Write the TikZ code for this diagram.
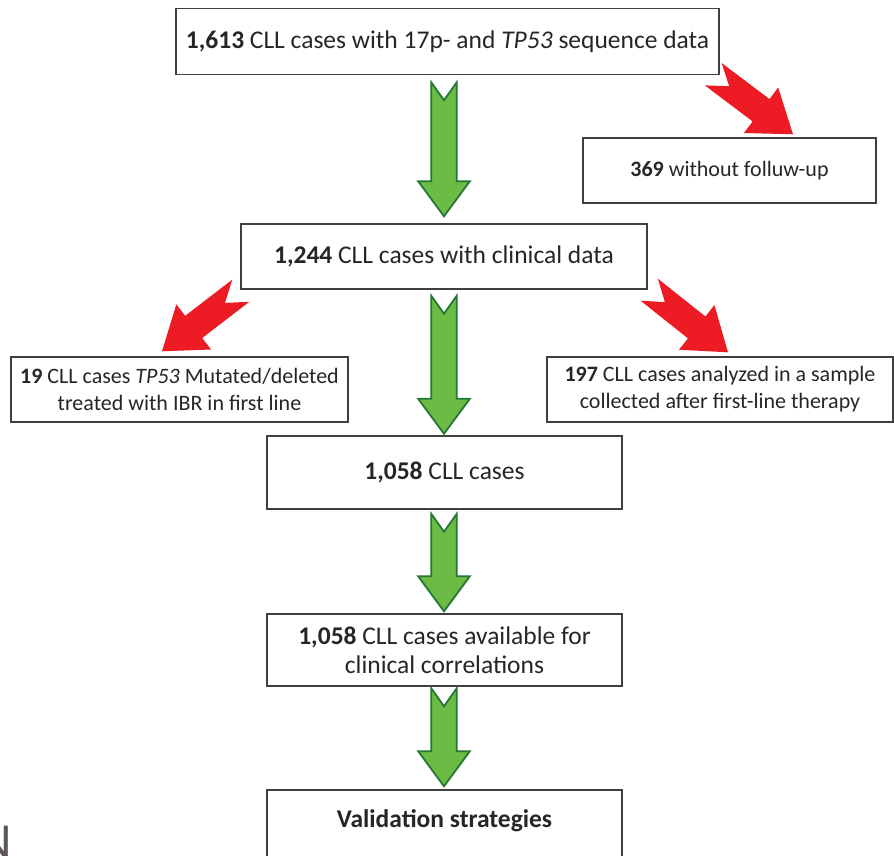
\documentclass[tikz,border=0pt]{standalone}
\usepackage{fontspec}
\setmainfont{Carlito}
\usetikzlibrary{calc}
\definecolor{boxline}{RGB}{64,64,64}
\definecolor{textcol}{RGB}{38,38,38}
\definecolor{gfill}{RGB}{108,187,69}
\definecolor{gline}{RGB}{36,120,52}
\definecolor{rfill}{RGB}{237,28,36}
\definecolor{nfragcol}{RGB}{92,86,86}
% #1 style, #2 start, #3 tip, #4 shaft half width, #5 head half width, #6 head length, #7 notch depth
\newcommand\blockarrow[7]{%
  \coordinate (ba-c) at ($(#3)!#6!(#2)$);
  \path[#1] ($(#2)!#4!90:(#3)$) -- ($(ba-c)!#4!90:(#3)$) -- ($(ba-c)!#5!90:(#3)$) -- (#3)
    -- ($(ba-c)!#5!-90:(#3)$) -- ($(ba-c)!#4!-90:(#3)$) -- ($(#2)!#4!-90:(#3)$)
    -- ($(#2)!#7!(#3)$) -- cycle;
}
\begin{document}
\begin{tikzpicture}[x=1pt,y=-1pt,
  box/.style={draw=boxline, line width=1.4pt, fill=white, text=textcol,
    font=\fontsize{25.5}{29.5}\selectfont, align=center, inner sep=0pt},
  sidebox/.style={box, font=\fontsize{22}{27}\selectfont},
  boxtext/.style={text=textcol, font=\fontsize{25.5}{29.5}\selectfont, align=center, inner sep=0pt},
  garrow/.style={fill=gfill, draw=gline, line width=1.8pt, line join=miter},
  rarrow/.style={fill=rfill}]
\useasboundingbox (0,0) rectangle (894,856);
\clip (0,0) rectangle (894,856);

\node[box, minimum width=543pt, minimum height=66pt] (b1) at (447.5,41.5)
  {\textbf{1,613} CLL cases with 17p- and \textit{TP53} sequence data};
\node[sidebox, minimum width=293pt, minimum height=65pt] (b369) at (729.5,170.5)
  {\textbf{369} without folluw-up};
\node[box, minimum width=406pt, minimum height=65pt] (b2) at (444,256.5)
  {\textbf{1,244} CLL cases with clinical data};
\node[sidebox, minimum width=337pt, minimum height=65pt] (b19) at (179.5,389.5)
  {\textbf{19} CLL cases \textit{TP53} Mutated/deleted\\treated with IBR in first line};
\node[sidebox, minimum width=346pt, minimum height=65pt] (b197) at (720,389.5)
  {\textbf{197} CLL cases analyzed in a sample\\collected after first-line therapy};
\node[box, minimum width=355pt, minimum height=73pt] (b3) at (444.5,472.5)
  {\textbf{1,058} CLL cases};
\node[box, minimum width=355pt, minimum height=72pt] (b4) at (444.5,650)
  {\textbf{1,058} CLL cases available for\\clinical correlations};
\node[box, minimum width=355pt, minimum height=80pt] (b5) at (444.5,830) {};
\node[boxtext] (b5t) at ($(b5.north)+(0,31)$) {\textbf{Validation strategies}};

% green arrows
\coordinate (g1s) at ($(b1.south -| b2)+(0,7)$);
\coordinate (g1e) at ($(b2.north)+(0,-7)$);
\coordinate (g2s) at ($(b2.south)+(0,6)$);
\coordinate (g2e) at ($(b3.north -| b2)+(0,-1.5)$);
\coordinate (g3s) at ($(b3.south -| b2)+(0,4)$);
\coordinate (g3e) at ($(b4.north -| b2)+(0,-2)$);
\coordinate (g4s) at ($(b4.south -| b2)+(0,1.5)$);
\coordinate (g4e) at ($(b5.north -| b2)+(0,-3)$);
\blockarrow{garrow}{g1s}{g1e}{12.8pt}{25.8pt}{35pt}{18pt}
\blockarrow{garrow}{g2s}{g2e}{12.8pt}{25.8pt}{35pt}{18pt}
\blockarrow{garrow}{g3s}{g3e}{12.8pt}{25.8pt}{35pt}{18pt}
\blockarrow{garrow}{g4s}{g4e}{12.8pt}{25.8pt}{35pt}{18pt}

% red arrows
\coordinate (r1s) at ($(b1.south east)+(-6.5,-1)$);
\coordinate (r1e) at ($(b369.north)+(63.5,-3)$);
\coordinate (r2s) at ($(b2.south west)+(0.5,1)$);
\coordinate (r2e) at ($(b19.north)+(-17.5,-5)$);
\coordinate (r3s) at ($(b2.south east)+(1.5,0)$);
\coordinate (r3e) at ($(b197.north)+(8,-4)$);
\blockarrow{rarrow}{r1s}{r1e}{14pt}{28.5pt}{40pt}{20pt}
\blockarrow{rarrow}{r2s}{r2e}{14pt}{28.5pt}{40pt}{20pt}
\blockarrow{rarrow}{r3s}{r3e}{14pt}{28.5pt}{40pt}{20pt}

% cut-off glyph at the lower left edge
\node[anchor=base east, inner sep=0pt, text=nfragcol, font=\fontsize{52}{52}\selectfont] (nfrag) at (12,859) {N};
\end{tikzpicture}
\end{document}
